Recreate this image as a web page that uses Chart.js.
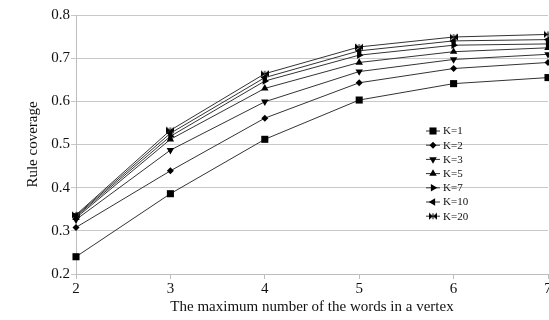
<!DOCTYPE html>
<html>
<head>
<meta charset="utf-8">
<script src="https://cdn.jsdelivr.net/npm/chart.js@4.4.0/dist/chart.umd.min.js"></script>
<style>
  html, body { margin: 0; padding: 0; background: #fff; overflow: hidden; }
  #wrap { width: 553px; height: 320px; }
</style>
</head>
<body>
<div id="wrap"><canvas id="lineChart" width="553" height="320"></canvas></div>
<script>
// x values: max number of words in a vertex
const wordCounts = ['2', '3', '4', '5', '6', '7'];
const seriesNames = ['K=1', 'K=2', 'K=3', 'K=5', 'K=7', 'K=10', 'K=20'];
const k1 = [0.240, 0.386, 0.512, 0.603, 0.641, 0.655];
const k2 = [0.308, 0.439, 0.561, 0.643, 0.676, 0.690];
const k3 = [0.326, 0.487, 0.599, 0.669, 0.697, 0.709];
const k5 = [0.330, 0.512, 0.630, 0.690, 0.715, 0.724];
const k7 = [0.333, 0.519, 0.647, 0.707, 0.730, 0.733];
const k10 = [0.335, 0.526, 0.655, 0.717, 0.740, 0.743];
const k20 = [0.337, 0.533, 0.664, 0.726, 0.749, 0.755];
const yTicks = [0.2, 0.3, 0.4, 0.5, 0.6, 0.7, 0.8];

// bowtie marker for K=20
const bowtie = document.createElement('canvas');
bowtie.width = 8; bowtie.height = 8;
const bctx = bowtie.getContext('2d');
bctx.fillStyle = '#000';
bctx.beginPath();
bctx.moveTo(0, 0.5); bctx.lineTo(4, 4); bctx.lineTo(0, 7.5); bctx.closePath();
bctx.moveTo(8, 0.5); bctx.lineTo(4, 4); bctx.lineTo(8, 7.5); bctx.closePath();
bctx.fill();
bctx.fillRect(3.5, 1, 1, 6);

const styles = [
    { pointStyle: 'rect', radius: 5, rotation: 0 },
    { pointStyle: 'rectRot', radius: 3.5, rotation: 0 },
    { pointStyle: 'triangle', radius: 4.3, rotation: 180 },
    { pointStyle: 'triangle', radius: 4.3, rotation: 0 },
    { pointStyle: 'triangle', radius: 4.3, rotation: 90 },
    { pointStyle: 'triangle', radius: 4.3, rotation: -90 },
    { pointStyle: bowtie, radius: 4, rotation: 0 },
];

const allValues = [k1, k2, k3, k5, k7, k10, k20];
const datasets = allValues.map((vals, i) => ({
    label: seriesNames[i],
    data: vals,
    borderColor: '#333',
    borderWidth: 1,
    pointStyle: styles[i].pointStyle,
    pointRadius: styles[i].radius,
    pointRotation: styles[i].rotation,
    pointBackgroundColor: '#000',
    pointBorderColor: '#000',
    pointBorderWidth: 0,
    tension: 0,
}));

const serif = "'Liberation Serif', 'DejaVu Serif', serif";

// legend drawn inside the plot area
const floatingLegend = {
    id: 'floatingLegend',
    afterDatasetsDraw(chart) {
        const ctx = chart.ctx;
        ctx.save();
        ctx.font = '11px ' + serif;
        ctx.textBaseline = 'middle';
        chart.data.datasets.forEach((ds, i) => {
            const x = 433, y = 131 + i * 14.2;
            ctx.strokeStyle = '#333';
            ctx.lineWidth = 1;
            ctx.beginPath();
            ctx.moveTo(426, y); ctx.lineTo(440, y);
            ctx.stroke();
            ctx.fillStyle = '#000';
            Chart.helpers.drawPoint(ctx, {
                pointStyle: ds.pointStyle,
                radius: ds.pointRadius,
                rotation: ds.pointRotation,
                borderWidth: 0,
            }, x, y);
            ctx.fillStyle = '#111';
            ctx.fillText(ds.label, 443, y + 0.5);
        });
        ctx.restore();
    }
};

const ctx = document.getElementById('lineChart').getContext('2d');
const lineChart = new Chart(ctx, {
    type: 'line',
    data: { labels: wordCounts, datasets: datasets },
    plugins: [floatingLegend],
    options: {
        responsive: false,
        animation: false,
        layout: { padding: { top: 15, right: 0, bottom: 0, left: 0 } },
        plugins: {
            legend: { display: false },
            tooltip: { enabled: false },
        },
        scales: {
            x: {
                type: 'category',
                offset: false,
                grid: { display: true, drawOnChartArea: false, drawTicks: true, tickLength: 5, color: '#bdbdbd' },
                border: { display: true, color: '#bdbdbd' },
                ticks: { color: '#111', font: { family: serif, size: 15 }, padding: 1, maxRotation: 0 },
                title: {
                    display: true,
                    text: 'The maximum number of the words in a vertex',
                    color: '#111',
                    font: { family: serif, size: 15 },
                    padding: { top: 2, bottom: 4 },
                },
                afterFit(scale) { scale.height = 46; },
            },
            y: {
                min: 0.2,
                max: 0.8,
                afterBuildTicks(scale) { scale.ticks = yTicks.map(v => ({ value: v })); },
                grid: { color: '#c8c8c8', tickLength: 5 },
                border: { display: true, color: '#bdbdbd' },
                ticks: {
                    color: '#111',
                    font: { family: serif, size: 15 },
                    padding: 1,
                    callback: v => v.toFixed(1),
                },
                title: {
                    display: true,
                    text: 'Rule coverage',
                    color: '#111',
                    font: { family: serif, size: 15 },
                    padding: { top: 24, bottom: 4 },
                },
                afterFit(scale) { scale.width = 76; },
            },
        },
    },
});
</script>
</body>
</html>
